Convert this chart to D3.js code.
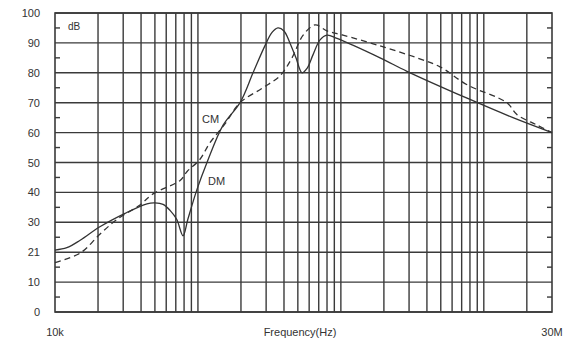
<!DOCTYPE html>
<html>
<head>
<meta charset="utf-8">
<script src="https://cdn.jsdelivr.net/npm/d3@7"></script>
<style>
body { margin: 0; background: #fff; }
text { font-family: "Liberation Sans", Arial, sans-serif; fill: #333; }
</style>
</head>
<body>
<div id="chart"></div>
<script>
// frequency (Hz) / level (dB)
var dmFreq = [1e4, 1.21e4, 1.5e4, 2.06e4, 3.09e4, 4.4e4, 5e4, 5.7e4, 6.38e4, 7.1e4, 7.87e4, 8.5e4, 9.85e4, 1.157e5, 1.5e5, 1.97e5, 2.43e5, 2.94e5, 3.3e5, 3.63e5, 4e5, 4.4e5, 4.85e5, 5.35e5, 5.8e5, 6.38e5, 7.15e5, 8e5, 9.4e5, 1.88e6, 2.9e6, 7.64e6, 1.6e7, 3e7];
var dmLevel = [20.7, 21.5, 24, 28.5, 33, 36.2, 36.5, 36, 34, 31, 25.5, 31, 41, 50, 62.5, 70, 80, 89, 93.5, 95, 94, 90, 85, 80, 81.5, 86, 91, 92.6, 91.5, 85, 80.5, 71.5, 65, 60];

var cmFreq = [1e4, 1.5e4, 2.06e4, 2.72e4, 3.93e4, 4.85e4, 7.5e4, 8.4e4, 1.03e5, 1.21e5, 1.55e5, 1.97e5, 2.85e5, 3.75e5, 4.55e5, 5.43e5, 6.59e5, 8e5, 1.035e6, 1.88e6, 3.41e6, 4.94e6, 7.64e6, 1.45e7, 1.71e7, 2.36e7, 3e7];
var cmLevel = [16.5, 19.7, 26, 31, 35.8, 39.5, 44, 47, 51, 56.5, 63, 70, 75, 79, 85, 92.5, 96, 94, 92.6, 89, 85, 82, 76, 70, 66, 62.5, 60];

var yTicks = [0, 10, 20, 30, 40, 50, 60, 70, 80, 90, 100];
var yTickLabels = ["0", "10", "21", "30", "40", "50", "60", "70", "80", "90", "100"];
var yMinor = [5, 15, 25, 35, 45, 55, 65, 75, 85, 95];
var xLabels = [{f: 1e4, t: "10k"}, {f: 3e7, t: "30M"}];

var width = 574, height = 344;
var mLeft = 55, mRight = 552, mTop = 13, mBottom = 312;

var svg = d3.select("#chart").append("svg")
            .attr("width", width)
            .attr("height", height);

var x = d3.scaleLog().domain([1e4, 3e7]).range([mLeft, mRight]);
var y = d3.scaleLinear().domain([0, 100]).range([mBottom, mTop]);

// vertical grid
svg.selectAll(".vgrid")
   .data(x.ticks().filter(function(d){ return d > 1e4 && d < 3e7; }))
   .enter().append("line")
   .attr("x1", function(d){ return x(d); })
   .attr("x2", function(d){ return x(d); })
   .attr("y1", mTop)
   .attr("y2", mBottom)
   .style("stroke", "#3a3a3a")
   .style("stroke-width", 1.4);

// horizontal grid
svg.selectAll(".hgrid")
   .data(yTicks)
   .enter().append("line")
   .attr("x1", mLeft)
   .attr("x2", mRight)
   .attr("y1", function(d){ return y(d); })
   .attr("y2", function(d){ return y(d); })
   .style("stroke", "#3a3a3a")
   .style("stroke-width", 1.4);

svg.append("rect")
   .attr("x", mLeft)
   .attr("y", mTop)
   .attr("width", mRight - mLeft)
   .attr("height", mBottom - mTop)
   .style("fill", "none")
   .style("stroke", "#3a3a3a")
   .style("stroke-width", 1.6);

// minor ticks, left and right
svg.selectAll(".mtl")
   .data(yMinor)
   .enter().append("line")
   .attr("x1", mLeft)
   .attr("x2", mLeft + 5)
   .attr("y1", function(d){ return y(d); })
   .attr("y2", function(d){ return y(d); })
   .style("stroke", "#3a3a3a")
   .style("stroke-width", 1.4);
svg.selectAll(".mtr")
   .data(yMinor)
   .enter().append("line")
   .attr("x1", mRight - 5)
   .attr("x2", mRight)
   .attr("y1", function(d){ return y(d); })
   .attr("y2", function(d){ return y(d); })
   .style("stroke", "#3a3a3a")
   .style("stroke-width", 1.4);

// y labels
svg.selectAll(".ylab")
   .data(yTicks)
   .enter().append("text")
   .attr("x", 40)
   .attr("y", function(d){ return y(d) + 4; })
   .attr("text-anchor", "end")
   .style("font-size", "11px")
   .text(function(d, i){ return yTickLabels[i]; });

svg.selectAll(".xlab")
   .data(xLabels)
   .enter().append("text")
   .attr("x", function(d){ return x(d.f); })
   .attr("y", 336)
   .attr("text-anchor", "middle")
   .style("font-size", "11px")
   .text(function(d){ return d.t; });

svg.append("text")
   .attr("x", 300)
   .attr("y", 336)
   .attr("text-anchor", "middle")
   .style("font-size", "11px")
   .text("Frequency(Hz)");

svg.append("text")
   .attr("x", 68)
   .attr("y", 30)
   .style("font-size", "10px")
   .text("dB");

// curves
var line = d3.line()
   .x(function(d){ return x(d[0]); })
   .y(function(d){ return y(d[1]); })
   .curve(d3.curveCatmullRom.alpha(0.5));

var dm = d3.zip(dmFreq, dmLevel);
var cm = d3.zip(cmFreq, cmLevel);

svg.append("path")
   .attr("d", line(dm))
   .style("fill", "none")
   .style("stroke", "#333")
   .style("stroke-width", 1.3);

svg.append("path")
   .attr("d", line(cm))
   .style("fill", "none")
   .style("stroke", "#333")
   .style("stroke-width", 1.3)
   .style("stroke-dasharray", "6,4");

svg.append("text")
   .attr("x", 202)
   .attr("y", 123)
   .style("font-size", "11px")
   .text("CM");

svg.append("text")
   .attr("x", 208)
   .attr("y", 185)
   .style("font-size", "11px")
   .text("DM");
</script>
</body>
</html>
